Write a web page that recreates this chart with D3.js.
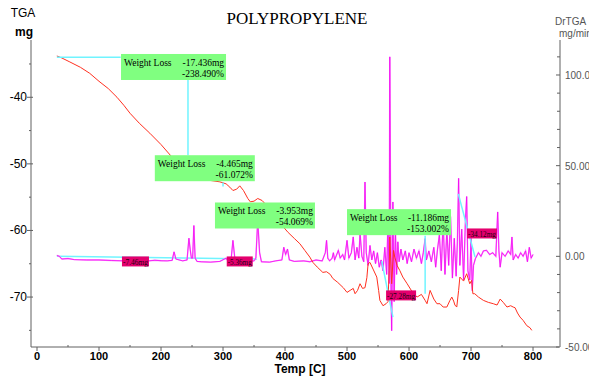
<!DOCTYPE html>
<html>
  <head>
    <title>Polypropylene TGA</title>
    <style>
      body { margin: 0; background: #fff; overflow: hidden; }
      svg { font-family: "Liberation Sans", Arial, sans-serif; }
      .serif { font-family: "Liberation Serif", "Times New Roman", serif; }
    </style>
  </head>
  <body>
    <svg width="589" height="377"></svg>
    <script src="https://cdn.jsdelivr.net/npm/d3@7"></script>
    <script>
      // TGA weight curve [temp C, mg]
      const tga = [[32,-33.8],[40,-34.1],[53,-34.7],[70,-35.5],[85,-36.4],[100,-37.6],[115,-38.7],[129,-40],[140,-41.2],[150,-42.4],
        [165,-43.9],[182,-45.4],[200,-47.1],[215,-48.7],[230,-50.3],[245,-51.5],[260,-52.2],[280,-52.5],[295,-52.7],[305,-53.0],
        [311,-53.5],[316,-54.0],[322,-53.8],[327,-53.3],[333,-54.0],[340,-55.2],[344,-55.7],[350,-55.6],[356,-55.2],[363,-55.5],
        [370,-56.2],[380,-57.3],[392,-58.9],[405,-60.3],[415,-61.2],[424,-62.0],[432,-63.0],[440,-64.0],[445,-64.8],[452,-65.5],
        [461,-66.3],[467,-66.2],[473,-66.6],[477,-67.2],[485,-67.8],[494,-68.6],[500,-69.3],[505,-69.0],[510,-68.7],[513,-69.5],
        [517,-69.0],[521,-68.0],[525,-68.7],[529,-68.6],[532,-67.1],[534,-65.0],[537,-64.8],[542,-65.8],[548,-67.0],[551,-69],
        [553,-70.5],[558,-71.3],[563,-71.0],[566,-70.7],[568,-66],[569,-61],[572,-68],[575,-63],[577,-64],[581,-65.3],
        [585,-66],[590,-67],[597,-68],[605,-69.2],[613,-70],[620,-69.6],[626,-70.5],[629,-71],[634,-69],[640,-70.3],
        [645,-71],[650,-71],[655,-71.5],[661,-71.5],[666,-70.5],[669,-70],[672,-70.6],[674,-71.2],[677,-71.5],[680,-69],
        [682,-67],[688,-67.6],[693,-66.5],[698,-68],[701,-67.5],[703,-69.5],[706,-69.5],[712,-70],[720,-70.5],[728,-70.8],
        [736,-71],[742,-71.2],[747,-70.3],[752,-70.8],[758,-71.5],[764,-71.3],[768,-71.5],[771,-71.6],[775,-72.4],[779,-73],
        [784,-73.5],[790,-74.3],[795,-74.6],[798,-75]];

      // derivative curve [temp C, mg/min]
      const drtga = [[32,0.5],[36,0],[40,-1.5],[50,-1.2],[60,-1.8],[80,-2],[100,-2],[120,-2.3],[140,-2.5],[160,-2.2],
        [180,-2.5],[190,-2.2],[200,-2.4],[210,-2.5],[218,-2.2],[221,2.5],[224,-1.5],[235,-2.5],[242,-2],[245,10],
        [247,4],[249,-1],[251,-1],[253,17],[255,-1],[258,-2.8],[265,-3],[280,-3.2],[295,-2.8],[305,-1],
        [308,-2.5],[313,-2],[316,8.8],[319,-1],[322,-2.8],[335,-3],[350,-2.5],[353,-1],[356,20],[359,2],
        [362,-3],[375,-3.2],[385,-2.5],[395,-2],[398,5],[401,1],[404,4],[407,-2],[415,-2.8],[430,-2.5],
        [440,-3],[450,-2],[460,-2.5],[465,2],[467,8.8],[469,-1],[472,-2.5],[476,-1],[478,2],[480,-2],
        [486,3.3],[489,-1],[493,1],[496,-2],[500,8.8],[503,-1],[507,2],[510,10.7],[513,-2],[516,5],
        [519,-1],[521,12.7],[524,0],[527,-3],[529,41],[531,2],[534,-5],[537,6],[540,-2],[543,3],
        [546,-4],[549,2],[552,-6],[555,-2],[558,-8],[561,5],[564,-10],[566,20],[568,-15],[569,110],
        [571,-20],[572,-41],[574,30],[576,-25],[578,15],[580,-10],[582,8],[584,-3],[587,4],[590,-2],
        [594,3],[597,-4],[600,2],[604,-3],[608,4],[612,-1],[616,3],[620,-4],[623,2],[626,9.8],
        [628,-2],[632,3],[636,-3],[640,5],[643,-6],[646,4],[649,12],[652,-8],[655,20],[658,-10],
        [661,15],[664,-5],[667,22],[670,-12],[673,10],[676,-11],[678,8],[680,43],[682,-5],[685,15],
        [688,-13],[691,20],[693,33],[695,-8],[698,-13],[700,10],[702,-19],[704,-5],[707,-1.3],[712,2],
        [716,0],[720,3],[725,3.3],[730,1],[735,2],[740,0],[743,24.5],[745,3],[747,-6],[750,2],
        [755,0],[760,3],[764,1],[766,10.7],[768,-2],[772,1],[776,-1],[780,2],[784,0],[788,3],
        [791,-3],[794,5],[797,-1],[800,1]];

      // cyan construction lines, TGA units
      const tgaLines = [
        [[32,-34.0],[135,-34.0]],
        [[243.5,-37.4],[243.5,-48.7]],
        [[300,-52.8],[300,-53.4]],
        [[556,-64.6],[574,-73.0]],
        [[626,-60.8],[626,-69.5]],
        [[679.5,-54.5],[706.5,-64.0]]
      ];
      // cyan baseline, DrTGA units
      const drtgaBase = [[32,0],[355,-1.5]];

      // weight loss boxes: anchor [temp, mg], texts
      const lossTemp = [135.5, 190, 287, 500];
      const lossMg = [-33.5, -48.7, -55.8, -56.8];
      const lossMass = ['-17.436mg', '-4.465mg', '-3.953mg', '-11.186mg'];
      const lossPct = ['-238.490%', '-61.072%', '-54.069%', '-153.002%'];

      // residue labels
      const resTemp = [137, 306, 563, 693.5];
      const resMg = [-63.9, -63.9, -69.0, -59.7];
      const resText = ['-7.46mg', '-5.36mg', '-27.28mg', '-34.12mg'];

      const xTicks = [0,100,200,300,400,500,600,700,800];
      const yLeftTicks = [-40,-50,-60,-70];
      const yRightTicks = [100,50,0,-50];

      const svg = d3.select('svg');

      const x = d3.scaleLinear().domain([-9.7, 841.9]).range([31, 559]);
      const yL = d3.scaleLinear().domain([-77.5, -31.4]).range([347, 40]);
      const yR = d3.scaleLinear().domain([-50, 119.3]).range([347, 40]);

      const axisColor = '#606060';

      // axes
      svg.append('line').attr('x1', 31).attr('x2', 31).attr('y1', yL.range()[1]).attr('y2', 347)
        .attr('stroke', axisColor);
      svg.append('line').attr('x1', 31).attr('x2', 559).attr('y1', 347).attr('y2', 347)
        .attr('stroke', axisColor);
      svg.append('line').attr('x1', 560).attr('x2', 560).attr('y1', yR.range()[1]).attr('y2', 347)
        .attr('stroke', axisColor);

      // bottom ticks
      const xMinor = d3.range(50, 850, 100);
      svg.append('g').selectAll('line').data(xTicks).enter().append('line')
        .attr('x1', d => x(d)).attr('x2', d => x(d)).attr('y1', 347).attr('y2', 351)
        .attr('stroke', axisColor);
      svg.append('g').selectAll('line').data(xMinor).enter().append('line')
        .attr('x1', d => x(d)).attr('x2', d => x(d)).attr('y1', 345).attr('y2', 347)
        .attr('stroke', axisColor);
      svg.append('g').selectAll('text').data(xTicks).enter().append('text')
        .attr('x', d => x(d)).attr('y', 360).attr('text-anchor', 'middle')
        .attr('font-size', 11).attr('font-weight', 'bold').text(d => d);

      // left ticks
      const yLMinor = d3.range(-75, -30, 10);
      svg.append('g').selectAll('line').data(yLeftTicks).enter().append('line')
        .attr('x1', 27).attr('x2', 33).attr('y1', d => yL(d)).attr('y2', d => yL(d))
        .attr('stroke', axisColor);
      svg.append('g').selectAll('line').data(yLMinor).enter().append('line')
        .attr('x1', 29).attr('x2', 31).attr('y1', d => yL(d)).attr('y2', d => yL(d))
        .attr('stroke', axisColor);
      svg.append('g').selectAll('text').data(yLeftTicks).enter().append('text')
        .attr('x', 27).attr('y', d => yL(d) + 4).attr('text-anchor', 'end')
        .attr('font-size', 12).text(d => d);

      // right ticks
      const yRMinor = d3.range(-40, 120, 10).filter(d => d % 50 !== 0);
      svg.append('g').selectAll('line').data(yRightTicks).enter().append('line')
        .attr('x1', 556).attr('x2', 560).attr('y1', d => yR(d)).attr('y2', d => yR(d))
        .attr('stroke', axisColor);
      svg.append('g').selectAll('line').data(yRMinor).enter().append('line')
        .attr('x1', 557).attr('x2', 560).attr('y1', d => yR(d)).attr('y2', d => yR(d))
        .attr('stroke', axisColor);
      svg.append('g').selectAll('text').data(yRightTicks).enter().append('text')
        .attr('x', 565).attr('y', d => yR(d) + 4)
        .attr('font-size', 10).attr('fill', '#555').text(d => d.toFixed(2));

      // titles
      svg.append('text').attr('class', 'serif').attr('x', 297).attr('y', 24).attr('text-anchor', 'middle')
        .attr('font-size', 17).text('POLYPROPYLENE');
      svg.append('text').attr('x', 23).attr('y', 17).attr('text-anchor', 'middle')
        .attr('font-size', 12).text('TGA');
      svg.append('text').attr('x', 24).attr('y', 36).attr('text-anchor', 'middle')
        .attr('font-size', 12).attr('font-weight', 'bold').text('mg');
      svg.append('text').attr('x', 555).attr('y', 25)
        .attr('font-size', 10).attr('fill', '#555').text('DrTGA');
      svg.append('text').attr('x', 559).attr('y', 37)
        .attr('font-size', 10).attr('fill', '#555').text('mg/min');
      svg.append('text').attr('x', 300).attr('y', 373).attr('text-anchor', 'middle')
        .attr('font-size', 12).attr('font-weight', 'bold').text('Temp  [C]');

      // curves
      const lineL = d3.line().x(d => x(d[0])).y(d => yL(d[1]));
      const lineR = d3.line().x(d => x(d[0])).y(d => yR(d[1]));

      svg.append('path').datum(drtgaBase).attr('d', lineR)
        .attr('fill', 'none').attr('stroke', '#70f4ff').attr('stroke-width', 1.5);
      svg.append('path').datum(drtga).attr('d', lineR)
        .attr('fill', 'none').attr('stroke', '#ff80ff').attr('stroke-width', 1.4);
      svg.append('path').datum(drtga).attr('d', lineR)
        .attr('fill', 'none').attr('stroke', '#f000f0').attr('stroke-width', 0.7);
      svg.append('path').datum(tga).attr('d', lineL)
        .attr('fill', 'none').attr('stroke', '#ff3020').attr('stroke-width', 1);

      svg.append('g').selectAll('path').data(tgaLines).enter().append('path')
        .attr('d', lineL).attr('fill', 'none').attr('stroke', '#70f4ff').attr('stroke-width', 1.5);

      // weight loss boxes
      const boxW = [105, 100, 100, 104];
      const boxes = svg.append('g').selectAll('g').data(lossTemp).enter().append('g')
        .attr('class', 'serif')
        .attr('transform', (d, i) => 'translate(' + x(d) + ',' + yL(lossMg[i]) + ')');
      boxes.append('rect').attr('width', (d, i) => boxW[i]).attr('height', 26).attr('fill', '#80ff80');
      boxes.append('text').attr('x', 3).attr('y', 12).attr('font-size', 9.5).text('Weight Loss');
      boxes.append('text').attr('x', (d, i) => boxW[i] - 2).attr('y', 12).attr('text-anchor', 'end')
        .attr('font-size', 9.5).text((d, i) => lossMass[i]);
      boxes.append('text').attr('x', (d, i) => boxW[i] - 2).attr('y', 23).attr('text-anchor', 'end')
        .attr('font-size', 9.5).text((d, i) => lossPct[i]);

      // residue labels, narrow as in the instrument printout
      const resW = [27, 26, 30, 30];
      const res = svg.append('g').selectAll('g').data(resTemp).enter().append('g')
        .attr('class', 'serif')
        .attr('transform', (d, i) => 'translate(' + x(d) + ',' + yL(resMg[i]) + ')');
      res.append('rect').attr('width', (d, i) => resW[i]).attr('height', 10).attr('fill', '#e4006e');
      res.append('text').attr('x', 1).attr('y', 8.5).attr('font-size', 9).attr('fill', '#200010')
        .attr('textLength', (d, i) => resW[i] - 2).attr('lengthAdjust', 'spacingAndGlyphs')
        .text((d, i) => resText[i]);
    </script>
  </body>
</html>
